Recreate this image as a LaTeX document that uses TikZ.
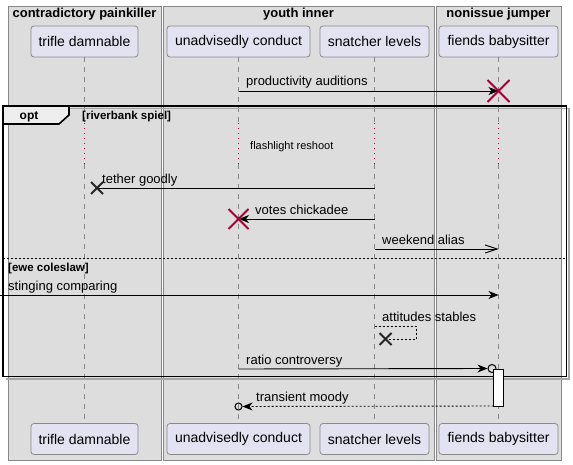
\documentclass[tikz,border=0pt]{standalone}
\usepackage{fontspec}
\setmainfont{Liberation Sans}
\usetikzlibrary{arrows.meta}
\definecolor{grpfill}{HTML}{DDDDDD}
\definecolor{grpline}{HTML}{888888}
\definecolor{partfill}{HTML}{E2E2F0}
\definecolor{partline}{HTML}{8A8A8A}
\definecolor{lifeline}{HTML}{888888}
\definecolor{destroyred}{HTML}{A80036}
\definecolor{delayred}{HTML}{C0004A}
\definecolor{tabfill}{HTML}{EEEEEE}
\tikzset{
  grpbox/.style={draw=grpline, fill=grpfill, line width=0.8pt},
  grptitle/.style={font=\bfseries\fontsize{13}{15}\selectfont, inner sep=0pt},
  part/.style={draw=partline, fill=partfill, rounded corners=3pt, line width=0.8pt, inner sep=0pt, minimum height=31pt, font=\fontsize{14}{16}\selectfont},
  lline/.style={draw=lifeline, dash pattern=on 5pt off 5pt, line width=0.7pt},
  delayline/.style={draw=delayred, dash pattern=on 1.2pt off 3.8pt, line width=1.1pt},
  msg/.style={draw=black, line width=0.9pt, -{Stealth[length=10pt,width=8pt,inset=3pt]}},
  msgopen/.style={draw=black, line width=0.9pt, -{Straight Barb[length=12pt,width=8pt,line width=0.9pt]}},
  msgplain/.style={draw=black, line width=0.9pt},
  retmsg/.style={draw=black, line width=0.9pt, dash pattern=on 2pt off 2pt},
  lbl/.style={font=\fontsize{13}{15}\selectfont, inner sep=0pt, anchor=base west},
  smalllbl/.style={font=\fontsize{11}{13}\selectfont, inner sep=0pt, anchor=base west},
  guard/.style={font=\bfseries\fontsize{11.5}{13}\selectfont, inner sep=0pt, anchor=base west},
  framebox/.style={draw=black, line width=1.6pt},
  xred/.style={draw=destroyred, line width=2pt},
  xblack/.style={draw=black!85, line width=2pt},
  actbar/.style={draw=black, fill=white, line width=0.9pt},
  circ/.style={draw=black, fill=none, line width=1pt, circle, inner sep=0pt, minimum size=8pt},
}
\begin{document}
\begin{tikzpicture}[x=1pt,y=-1pt]
\useasboundingbox (0,0) rectangle (573,465);
% groups
\draw[grpbox] (8,6) rectangle (161,460);
\draw[grpbox] (163,6) rectangle (434,460);
\draw[grpbox] (436,6) rectangle (561,460);
\node[grptitle] (g1) at (84.5,14) {contradictory painkiller};
\node[grptitle] (g2) at (298.5,14) {youth inner};
\node[grptitle] (g3) at (498.5,14) {nonissue jumper};
% participants top
\node[part, minimum width=107pt] (A) at (84.5,41.5) {trifle damnable};
\node[part, minimum width=143pt] (B) at (238.5,41.5) {unadvisedly conduct};
\node[part, minimum width=109pt] (C) at (374.5,41.5) {snatcher levels};
\node[part, minimum width=119pt] (D) at (498.5,41.5) {fiends babysitter};
% participants bottom
\node[part, minimum width=107pt] (A2) at (84.5,439) {trifle damnable};
\node[part, minimum width=143pt] (B2) at (238.5,439) {unadvisedly conduct};
\node[part, minimum width=109pt] (C2) at (374.5,439) {snatcher levels};
\node[part, minimum width=119pt] (D2) at (498.5,439) {fiends babysitter};
% lifelines
\foreach \n/\x in {A/84.5,B/238.5,C/374.5,D/498.5}{
  \coordinate (\n d1) at (\x,123);
  \coordinate (\n d2) at (\x,164);
  \draw[lline] (\n.south) -- (\n d1);
  \draw[delayline] (\n d1) -- (\n d2);
  \draw[lline] (\n d2) -- (\n 2.north);
}
% frame
\draw[draw=black!35, line width=1.2pt] (5.5,108.5) -- (569,108.5) -- (569,379) -- (5.5,379);
\draw[framebox] (3,106) rectangle (566.5,376.5);
\draw[framebox, fill=tabfill] (3,106) -- (69,106) -- (69,115) -- (59,124) -- (3,124) -- cycle;
\node[font=\bfseries\fontsize{12}{14}\selectfont, inner sep=0pt, anchor=base] (optlbl) at (29,120) {opt};
\node[guard] (gd1) at (82,120) {[riverbank spiel]};
\draw[draw=black, line width=0.8pt, dash pattern=on 2pt off 2pt] (3,258) -- (566.5,258);
\node[guard] (gd2) at (8,271) {[ewe coleslaw]};
% delay text
\node[smalllbl] (dl) at (250,150) {flashlight reshoot};
% msg 1
\coordinate (m1s) at (238.5,91);
\coordinate (m1e) at (498.5,91);
\draw[msg] (m1s) -- (m1e);
\node[lbl] (l1) at (246,86) {productivity auditions};
\draw[xred] (487.5,80) -- (509.5,102) (487.5,102) -- (509.5,80);
% tether goodly
\coordinate (m2s) at (374.5,188);
\coordinate (m2e) at (97,188);
\draw[msgplain] (m2s) -- (m2e);
\draw[xblack] (91,182) -- (103,194) (91,194) -- (103,182);
\node[lbl] (l2) at (102,183.5) {tether goodly};
% votes chickadee
\coordinate (m3s) at (374.5,219);
\coordinate (m3e) at (239,219);
\draw[msg] (m3s) -- (m3e);
\draw[xred] (228.5,209) -- (248.5,229) (228.5,229) -- (248.5,209);
\node[lbl] (l3) at (255,214.5) {votes chickadee};
% weekend alias
\coordinate (m4s) at (374.5,249);
\coordinate (m4e) at (498.5,249);
\draw[msgopen] (m4s) -- (m4e);
\node[lbl] (l4) at (382,244.5) {weekend alias};
% stinging comparing
\coordinate (m5s) at (0,295);
\coordinate (m5e) at (498.5,295);
\draw[msg] (m5s) -- (m5e);
\node[lbl] (l5) at (8,290.5) {stinging comparing};
% attitudes stables
\coordinate (m6s) at (374.5,326);
\coordinate (m6e) at (388,339);
\draw[retmsg, line width=0.8pt] (m6s) -- (416,326) -- (416,339) -- (m6e);
\draw[xblack] (379.5,333) -- (391.5,345) (379.5,345) -- (391.5,333);
\node[lbl] (l6) at (382,321) {attitudes stables};
% ratio controversy
\coordinate (m7s) at (238.5,369);
\node[circ] (c7) at (492,368.5) {};
\draw[msg] (m7s) -- (c7.west);
\node[lbl] (l7) at (246,364.5) {ratio controversy};
% activation
\draw[actbar] (493.5,369) rectangle (503,406);
\coordinate (act) at (493.5,406);
% transient moody
\node[circ, minimum size=7pt] (c8) at (238.5,406.5) {};
\draw[retmsg, -{Stealth[length=10pt,width=8pt,inset=3pt]}] (act) -- (c8.east);
\node[lbl] (l8) at (256,401.5) {transient moody};
\end{tikzpicture}
\end{document}
